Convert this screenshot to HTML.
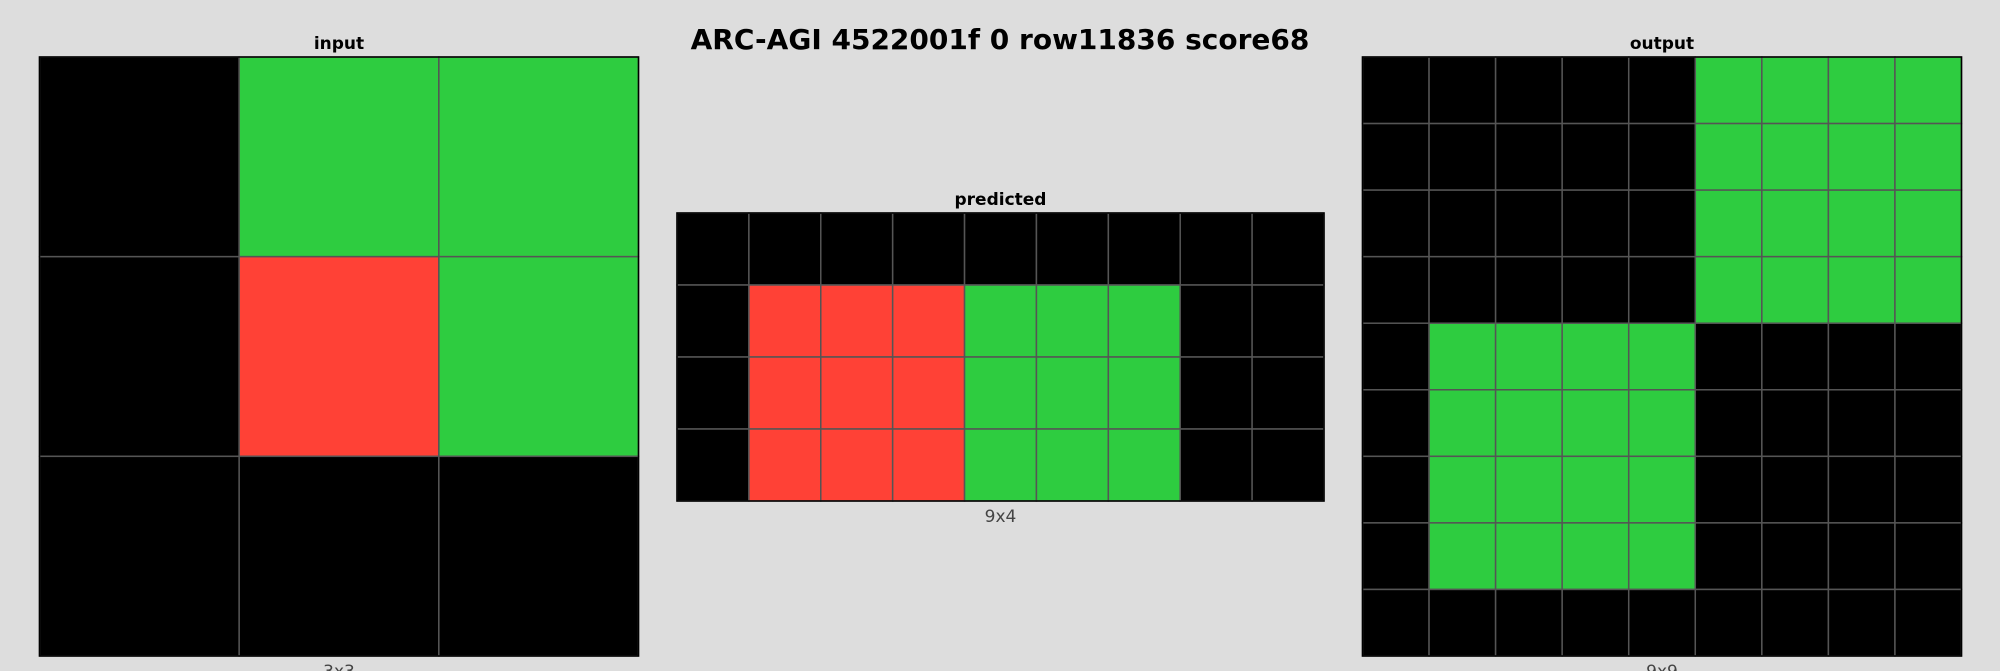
<!DOCTYPE html>
<html><head><meta charset="utf-8">
<style>
html,body{margin:0;padding:0;background:#dddddd;}
body{width:2000px;height:671px;overflow:hidden;position:relative;font-family:"Liberation Sans","DejaVu Sans",sans-serif;}
svg{position:absolute;left:0;top:0;}
</style></head>
<body>
<svg id="fig" width="2000" height="671">
<text x="1000" y="49" text-anchor="middle" font-size="28" font-weight="bold" fill="#000" font-family="DejaVu Sans, sans-serif">ARC-AGI 4522001f 0 row11836 score68</text>
</svg>
<script>
const inputGrid = [[0,3,3],[0,2,3],[0,0,0]];
const predictedGrid = [
  [0,0,0,0,0,0,0,0,0],
  [0,2,2,2,3,3,3,0,0],
  [0,2,2,2,3,3,3,0,0],
  [0,2,2,2,3,3,3,0,0]
];
const outputGrid = [
  [0,0,0,0,0,3,3,3,3],
  [0,0,0,0,0,3,3,3,3],
  [0,0,0,0,0,3,3,3,3],
  [0,0,0,0,0,3,3,3,3],
  [0,3,3,3,3,0,0,0,0],
  [0,3,3,3,3,0,0,0,0],
  [0,3,3,3,3,0,0,0,0],
  [0,3,3,3,3,0,0,0,0],
  [0,0,0,0,0,0,0,0,0]
];
const palette = {0:'#000000',2:'#FF4136',3:'#2ECC40'};
const NS='http://www.w3.org/2000/svg';
const svg=document.getElementById('fig');
function mk(tag,attrs){const e=document.createElementNS(NS,tag);for(const k in attrs)e.setAttribute(k,attrs[k]);return e;}
function panel(name,grid,x0,y0,w,h,title){
  const rows=grid.length, cols=grid[0].length;
  const cw=w/cols, ch=h/rows;
  const g=mk('g',{});
  
  
  const t=mk('text',{x:x0+w/2,y:y0-8,'text-anchor':'middle','font-size':17,'font-weight':'bold','font-family':'DejaVu Sans, sans-serif',fill:'#000'});
  t.textContent=title;
  
  
  g.appendChild(t);
  for(let r=0;r<rows;r++)for(let c=0;c<cols;c++){
    const rc=mk('rect',{x:x0+c*cw,y:y0+r*ch,width:cw,height:ch,fill:palette[grid[r][c]],stroke:'#555555','stroke-width':1.5});
    
    
    g.appendChild(rc);
  }
  const b=mk('rect',{x:x0,y:y0,width:w,height:h,fill:'none',stroke:'#000','stroke-width':1.5});
  
  
  g.appendChild(b);
  const l=mk('text',{x:x0+w/2,y:y0+h+21,'text-anchor':'middle','font-size':17,'font-family':'DejaVu Sans, sans-serif',fill:'#444'});
  l.textContent=cols+'x'+rows;
  
  
  g.appendChild(l);
  svg.appendChild(g);
}
panel('input',inputGrid,39.5,57,599,599,'input');
panel('predicted',predictedGrid,677,213,647,288,'predicted');
panel('output',outputGrid,1362.5,57,599,599,'output');
</script>
</body></html>
